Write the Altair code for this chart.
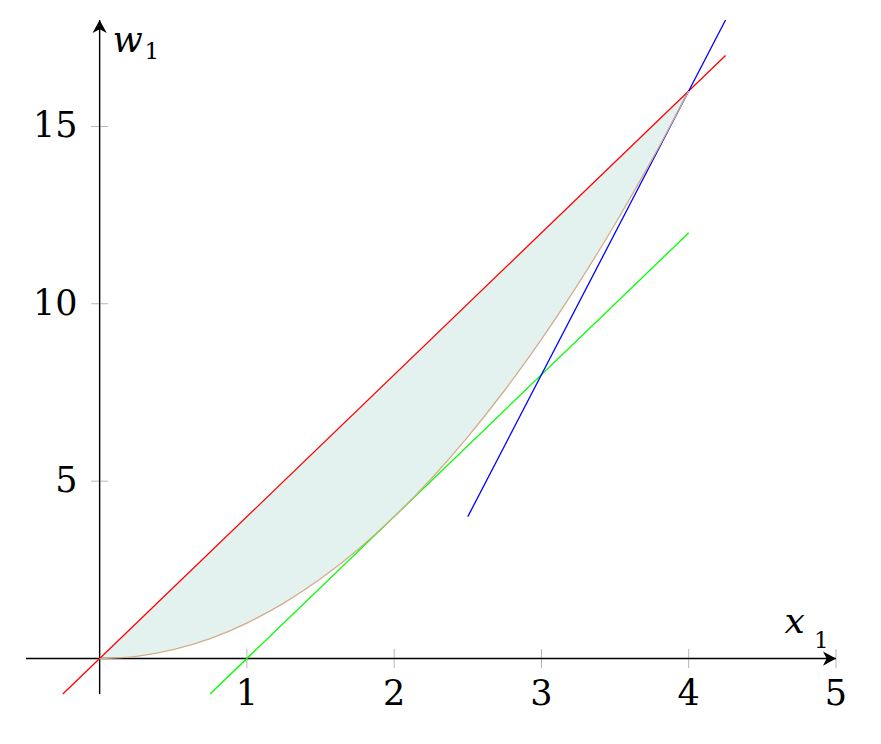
import altair as alt
import pandas as pd

# ---- data ----
curve_x = [0, 0.25, 0.5, 0.75, 1, 1.25, 1.5, 1.75, 2, 2.25, 2.5, 2.75, 3, 3.25, 3.5, 3.75, 4]
curve_y = [0, 0.0625, 0.25, 0.5625, 1, 1.5625, 2.25, 3.0625, 4, 5.0625, 6.25, 7.5625, 9,
           10.5625, 12.25, 14.0625, 16]
fill_upper = [0, 1, 2, 3, 4, 5, 6, 7, 8, 9, 10, 11, 12, 13, 14, 15, 16]

red_x = [-0.25, 4.25]
red_y = [-1, 17]
blue_x = [2.5, 4.25]
blue_y = [4, 18]
green_x = [0.75, 4]
green_y = [-1, 12]

x_ticks = [1, 2, 3, 4, 5]
y_ticks = [5, 10, 15]
x_domain = [-0.5, 5]
y_domain = [-1, 18]

FONT = "DejaVu Serif"

xs = alt.Scale(domain=x_domain, nice=False, zero=False)
ys = alt.Scale(domain=y_domain, nice=False, zero=False)


def X(field):
    return alt.X(field, type="quantitative", scale=xs, axis=None)


def Y(field):
    return alt.Y(field, type="quantitative", scale=ys, axis=None)


def XD(v):
    return alt.XDatum(v, type="quantitative", scale=xs, axis=None)


def YD(v):
    return alt.YDatum(v, type="quantitative", scale=ys, axis=None)


curve_df = pd.DataFrame({"x": curve_x, "lo": curve_y, "hi": fill_upper})

fill = alt.Chart(curve_df).mark_area(color="#e3f1ef", interpolate="monotone").encode(
    x=X("x"), y=Y("lo"), y2=alt.Y2("hi")
)

xtick_df = pd.DataFrame({"x": x_ticks, "label": [str(v) for v in x_ticks]})
ytick_df = pd.DataFrame({"y": y_ticks, "label": [str(v) for v in y_ticks]})

xticks = alt.Chart(xtick_df).mark_tick(
    orient="vertical", size=19, thickness=0.8, color="#808080"
).encode(x=X("x"), y=YD(0))
yticks = alt.Chart(ytick_df).mark_tick(
    orient="horizontal", size=17, thickness=0.8, color="#808080"
).encode(x=XD(0), y=Y("y"))

x_axis = alt.Chart().mark_rule(color="black", strokeWidth=1.4).encode(
    x=XD(x_domain[0]), x2=alt.X2Datum(x_domain[1]), y=YD(0)
)
y_axis = alt.Chart().mark_rule(color="black", strokeWidth=1.4).encode(
    x=XD(0), y=YD(y_domain[0]), y2=alt.Y2Datum(y_domain[1])
)

x_arrow = alt.Chart().mark_point(
    shape="M0,0 L-1,-0.55 L-0.72,0 L-1,0.55 Z", size=676, filled=True,
    color="black", opacity=1, strokeWidth=0
).encode(x=XD(x_domain[1]), y=YD(0))
y_arrow = alt.Chart().mark_point(
    shape="M0,0 L-0.55,1 L0,0.72 L0.55,1 Z", size=676, filled=True,
    color="black", opacity=1, strokeWidth=0
).encode(x=XD(0), y=YD(y_domain[1]))


def seg(xv, yv, color):
    df = pd.DataFrame({"x": xv, "y": yv})
    return alt.Chart(df).mark_line(color=color, strokeWidth=1.3).encode(
        x=X("x"), y=Y("y")
    )


red = seg(red_x, red_y, "#ff0000")
green = seg(green_x, green_y, "#00ff00")
blue = seg(blue_x, blue_y, "#0000ff")
curve = alt.Chart(curve_df).mark_line(
    color="#d2ae8a", strokeWidth=1.3, interpolate="monotone"
).encode(x=X("x"), y=Y("lo"))

xlabels = alt.Chart(xtick_df).mark_text(
    font=FONT, fontSize=35, baseline="middle", align="center", dy=35, color="black"
).encode(x=X("x"), y=YD(0), text="label:N")
ylabels = alt.Chart(ytick_df).mark_text(
    font=FONT, fontSize=35, baseline="middle", align="right", dx=-22, color="black"
).encode(x=XD(0), y=Y("y"), text="label:N")

x_name = alt.Chart().mark_text(
    text="x", font=FONT, fontSize=36, fontStyle="italic", align="center",
    baseline="alphabetic", color="black"
).encode(x=XD(4.72), y=YD(0.73))
x_sub = alt.Chart().mark_text(
    text="1", font=FONT, fontSize=23, align="left", baseline="alphabetic", color="black"
).encode(x=XD(4.85), y=YD(0.31))
w_name = alt.Chart().mark_text(
    text="w", font=FONT, fontSize=35, fontStyle="italic", align="center",
    baseline="alphabetic", color="black"
).encode(x=XD(0.19), y=YD(17.11))
w_sub = alt.Chart().mark_text(
    text="1", font=FONT, fontSize=23, align="left", baseline="alphabetic", color="black"
).encode(x=XD(0.305), y=YD(16.89))

chart = alt.layer(
    fill, xticks, yticks, x_axis, y_axis, x_arrow, y_arrow,
    red, green, blue, curve,
    xlabels, ylabels, x_name, x_sub, w_name, w_sub,
).properties(
    width=810,
    height=674,
    autosize=alt.AutoSizeParams(type="none"),
    padding={"left": 18, "top": 12, "right": 20, "bottom": 30},
).configure_view(stroke=None)

chart.save("out.html", embed_options={"renderer": "svg", "actions": False})
